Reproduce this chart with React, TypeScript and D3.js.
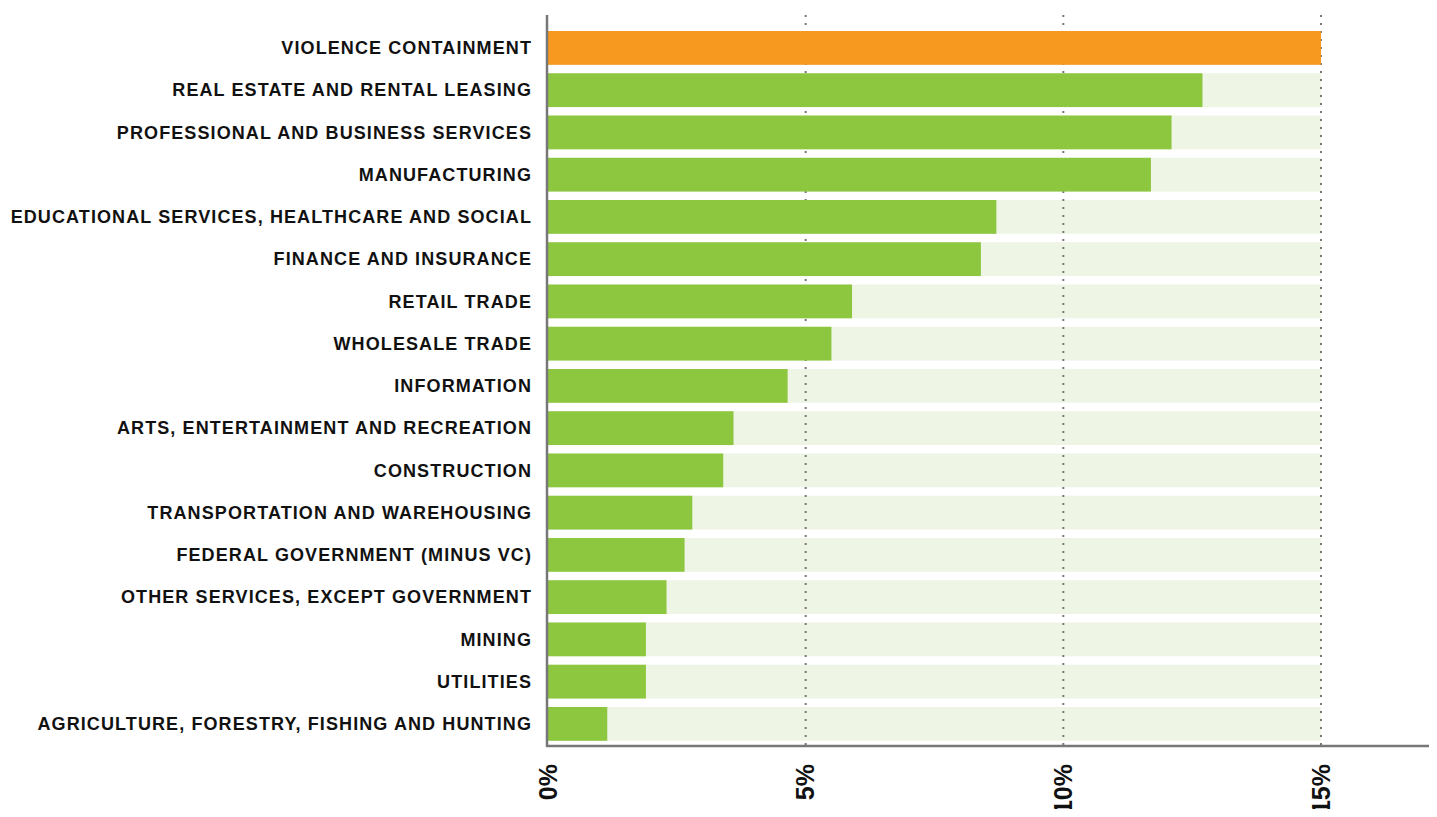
import * as d3 from "d3";
import React from "react";

// sectors, top to bottom
const categories = [
  "VIOLENCE CONTAINMENT",
  "REAL ESTATE AND RENTAL LEASING",
  "PROFESSIONAL AND BUSINESS SERVICES",
  "MANUFACTURING",
  "EDUCATIONAL SERVICES, HEALTHCARE AND SOCIAL",
  "FINANCE AND INSURANCE",
  "RETAIL TRADE",
  "WHOLESALE TRADE",
  "INFORMATION",
  "ARTS, ENTERTAINMENT AND RECREATION",
  "CONSTRUCTION",
  "TRANSPORTATION AND WAREHOUSING",
  "FEDERAL GOVERNMENT (MINUS VC)",
  "OTHER SERVICES, EXCEPT GOVERNMENT",
  "MINING",
  "UTILITIES",
  "AGRICULTURE, FORESTRY, FISHING AND HUNTING",
];

// share in percent
const values = [
  15.0, 12.7, 12.1, 11.7, 8.7, 8.4, 5.9, 5.5, 4.65, 3.6, 3.4, 2.8, 2.65, 2.3,
  1.9, 1.9, 1.15,
];

const tickValues = [0, 5, 10, 15];
const highlight = "VIOLENCE CONTAINMENT";

const App = (): React.ReactElement => {
  const chartRef = React.useRef<SVGSVGElement>(null);

  const width = 1437;
  const height = 817;
  const axisX = 548;
  const axisY = 746;

  React.useEffect(() => {
    const svg = d3.select(chartRef.current);
    svg.selectAll("*").remove();

    const xScale = d3.scaleLinear().domain([0, 15]).range([axisX, 1321]);
    const yScale = d3
      .scaleBand<string>()
      .domain(categories)
      .range([26.8, 745])
      .paddingInner(0.2)
      .paddingOuter(0.1);

    const data = categories.map((c, i) => ({ name: c, value: values[i] }));

    // background tracks
    svg
      .append("g")
      .selectAll("rect")
      .data(data)
      .join("rect")
      .attr("x", xScale(0))
      .attr("y", (d) => yScale(d.name) as number)
      .attr("width", xScale(15) - xScale(0))
      .attr("height", yScale.bandwidth())
      .attr("fill", "#eef5e5");

    // dotted grid
    svg
      .append("g")
      .selectAll("line")
      .data(tickValues.slice(1))
      .join("line")
      .attr("x1", (d) => xScale(d))
      .attr("x2", (d) => xScale(d))
      .attr("y1", 15)
      .attr("y2", axisY)
      .attr("stroke", "#777")
      .attr("stroke-width", 2)
      .attr("stroke-dasharray", "2,6");

    // value bars
    svg
      .append("g")
      .selectAll("rect")
      .data(data)
      .join("rect")
      .attr("x", xScale(0))
      .attr("y", (d) => yScale(d.name) as number)
      .attr("width", (d) => xScale(d.value) - xScale(0))
      .attr("height", yScale.bandwidth())
      .attr("fill", (d) => (d.name === highlight ? "#f7981f" : "#8dc63f"));

    // category labels
    svg
      .append("g")
      .selectAll("text")
      .data(data)
      .join("text")
      .attr("x", axisX - 16)
      .attr("y", (d) => (yScale(d.name) as number) + yScale.bandwidth() / 2)
      .attr("dy", "0.35em")
      .attr("text-anchor", "end")
      .attr("font-family", "Liberation Sans, Arial, sans-serif")
      .attr("font-weight", "bold")
      .attr("font-size", 18)
      .attr("letter-spacing", 1.1)
      .attr("fill", "#111")
      .text((d) => d.name);

    // axes
    svg
      .append("line")
      .attr("x1", axisX - 1)
      .attr("x2", axisX - 1)
      .attr("y1", 15)
      .attr("y2", axisY + 1)
      .attr("stroke", "#777")
      .attr("stroke-width", 2.5);
    svg
      .append("line")
      .attr("x1", axisX - 2)
      .attr("x2", width)
      .attr("y1", axisY)
      .attr("y2", axisY)
      .attr("stroke", "#777")
      .attr("stroke-width", 2.5);

    // tick labels, rotated
    svg
      .append("g")
      .selectAll("text")
      .data(tickValues)
      .join("text")
      .attr("transform", (d) => `translate(${xScale(d)}, 764) rotate(-90)`)
      .attr("dy", "0.35em")
      .attr("text-anchor", "end")
      .attr("font-family", "Liberation Sans, Arial, sans-serif")
      .attr("font-weight", "bold")
      .attr("font-size", 25)
      .attr("fill", "#111")
      .text((d) => `${d}%`);
  }, []);

  return (
    <div style={{ margin: -8, overflow: "hidden" }}>
      <svg
        ref={chartRef}
        width={width}
        height={height}
        style={{ display: "block" }}
      ></svg>
    </div>
  );
};

export default App;
